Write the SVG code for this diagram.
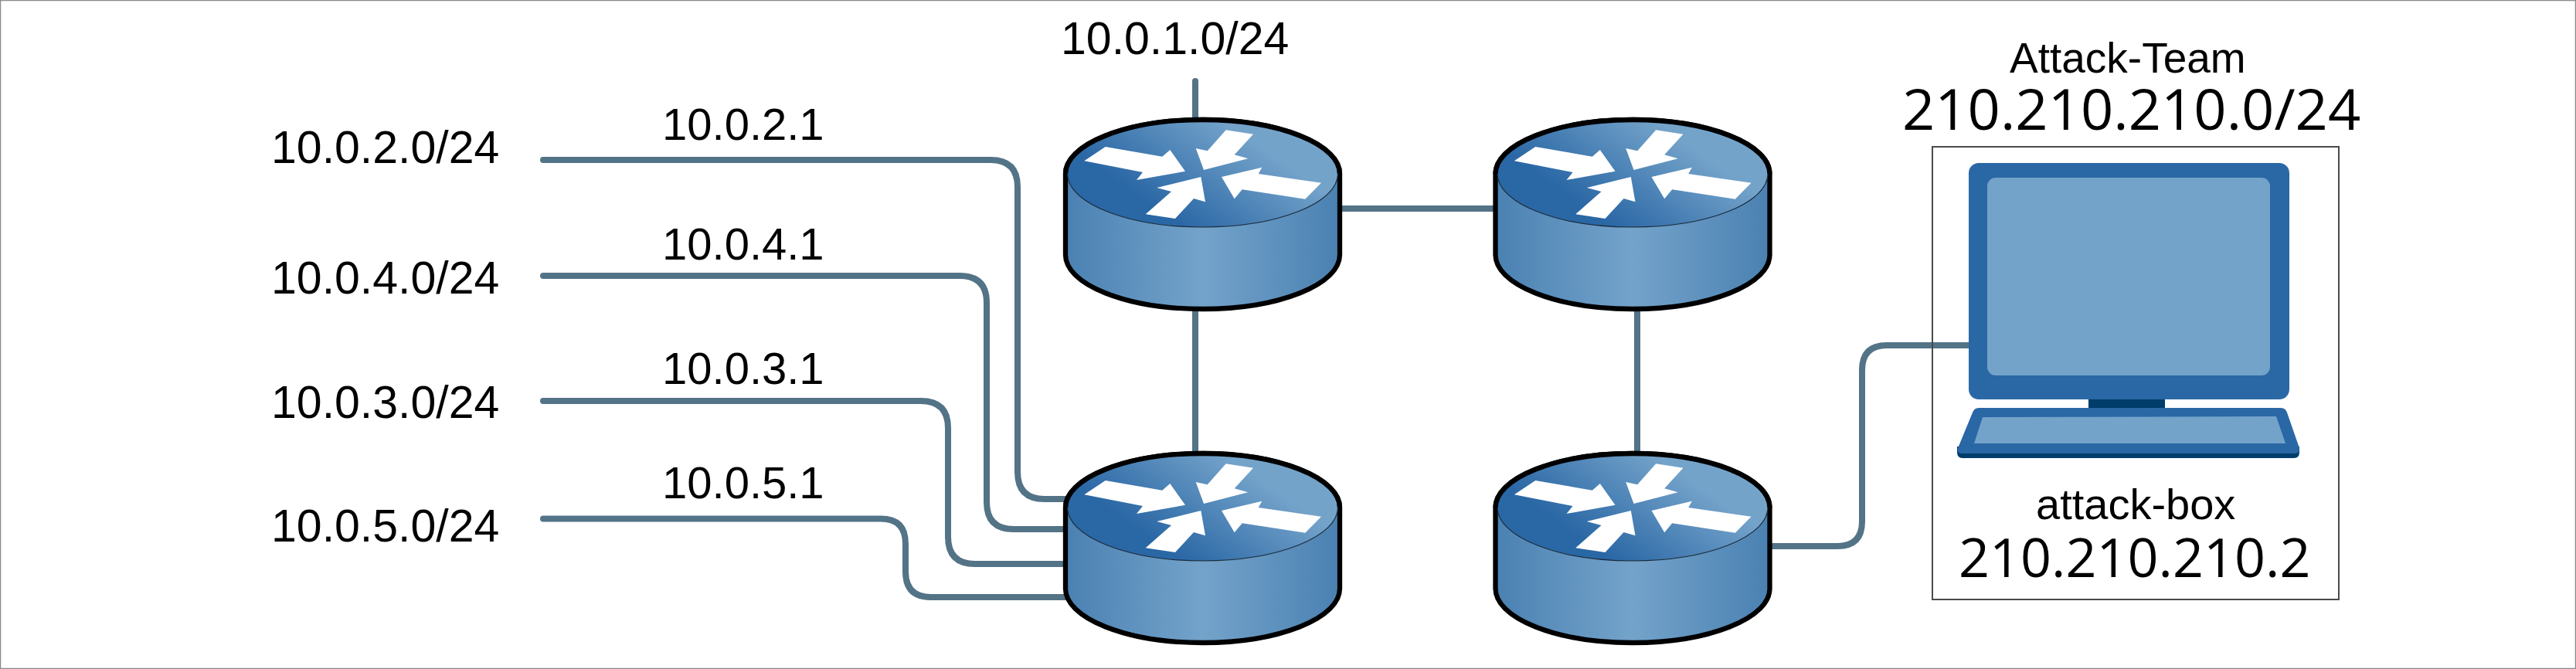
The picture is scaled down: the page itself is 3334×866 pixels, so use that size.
<svg xmlns="http://www.w3.org/2000/svg" xmlns:xlink="http://www.w3.org/1999/xlink" width="3334" height="866" viewBox="0 0 3334 866">
<style>
.link{fill:none;stroke:#537387;stroke-width:8;stroke-linecap:round;stroke-linejoin:round}
.t{font-family:"Liberation Sans",Arial,sans-serif;fill:#000;font-size:59px}
.o{font-family:"Open Sans","Liberation Sans",sans-serif;fill:#000}
.out{stroke:#000;stroke-width:6.3}
.arrow{fill:#fff}
</style>
<defs>
<linearGradient id="side" gradientUnits="userSpaceOnUse" x1="-178" y1="0" x2="178" y2="0">
<stop offset="0" stop-color="#4a81b2"/><stop offset="0.5" stop-color="#74a3ca"/><stop offset="1" stop-color="#4a81b2"/>
</linearGradient>
<linearGradient id="top" gradientUnits="userSpaceOnUse" x1="-41" y1="58" x2="42" y2="-60">
<stop offset="0" stop-color="#2a67a5"/><stop offset="1" stop-color="#74a3ca"/>
</linearGradient>
<g id="router">
<path class="out" fill="url(#side)" d="M-177.5,0V105A177.5,70 0 0 0 177.5,105V0A177.5,70 0 0 0 -177.5,0Z"/>
<ellipse cx="0" cy="0" rx="175" ry="69" fill="url(#top)" stroke="#1c2b3a" stroke-width="1.2"/>
<path class="out" fill="none" d="M-177.5,0A177.5,70 0 0 1 177.5,0"/>
<polygon class="arrow" points="-153.2,-16.7 -125.8,-35 -52.2,-22.3 -42.2,-31 -22.5,-3.3 -85.5,8 -77.5,-2"/>
<polygon class="arrow" points="30.2,-56.7 65.5,-51.3 41.2,-24.7 58.8,-19.7 1.5,-5 -8.8,-33 6.2,-29.7"/>
<polygon class="arrow" points="153.5,11.7 132.8,32.7 51.2,20.3 41.2,32.3 24.5,4 76.8,-8.3 72.2,0"/>
<polygon class="arrow" points="-73.8,52.3 -35.5,58 -11.5,32 3.5,36.3 -2.2,4 -59.2,18 -40.5,23"/>
</g>
</defs>
<rect width="3334" height="866" fill="#fff"/>
<rect x="0.5" y="0.5" width="3333" height="865" fill="none" stroke="#8a8a8a" stroke-width="1.5"/>
<g id="connectors">
<path class="link" d="M703,207H1282Q1317,207 1317,242V611Q1317,646 1352,646H1400"/>
<path class="link" d="M703,357H1242Q1277,357 1277,392V650Q1277,685 1312,685H1400"/>
<path class="link" d="M703,519H1192Q1227,519 1227,554V695Q1227,730 1262,730H1400"/>
<path class="link" d="M703,671.5H1140Q1172,671.5 1172,704V740Q1172,773 1205,773H1400"/>
<path class="link" d="M1547,105V200"/>
<path class="link" d="M1547,380V600"/>
<path class="link" d="M1700,270H1960"/>
<path class="link" d="M2119,380V600"/>
<path class="link" d="M2270,707H2378Q2410,707 2410,675V479Q2410,447 2442,447H2560"/>
</g>
<rect id="attack-team-box" x="2501" y="190" width="526" height="586" fill="none" stroke="#4a4a4a" stroke-width="2"/>
<g id="router-r1"><use href="#router" x="1556.5" y="225"/></g>
<g id="router-r2"><use href="#router" x="1556.5" y="657"/></g>
<g id="router-r3"><use href="#router" x="2113" y="225"/></g>
<g id="router-r4"><use href="#router" x="2113" y="657"/></g>
<g id="attack-box">
<rect x="2703" y="510" width="99" height="22" fill="#003d6b"/>
<rect x="2548" y="211" width="415" height="306" rx="13" fill="#2a67a5"/>
<rect x="2572" y="230" width="366" height="256" rx="11" fill="#74a3ca"/>
<path d="M2533,585Q2533,593 2540,593H2969Q2976,593 2976,585V578H2533Z" fill="#003d6b"/>
<path d="M2553,534Q2555,528 2561,528H2952Q2958,528 2960,534L2976,580Q2977,587 2969,587H2540Q2532,587 2534,580Z" fill="#2a67a5"/>
<path d="M2566,540L2946,539L2958,574H2555Z" fill="#74a3ca"/>
</g>
<g id="labels">
<text class="t" x="1373" y="70">10.0.1.0/24</text>
<text class="t" x="351" y="211">10.0.2.0/24</text>
<text class="t" x="351" y="380">10.0.4.0/24</text>
<text class="t" x="351" y="541">10.0.3.0/24</text>
<text class="t" x="351" y="701">10.0.5.0/24</text>
<text class="t" x="857" y="181" style="font-size:58px">10.0.2.1</text>
<text class="t" x="857" y="336" style="font-size:58px">10.0.4.1</text>
<text class="t" x="857" y="497" style="font-size:58px">10.0.3.1</text>
<text class="t" x="857" y="645" style="font-size:58px">10.0.5.1</text>
<text class="t" x="2601" y="94" style="font-size:55px">Attack-Team</text>
<text class="o" x="2462" y="168" style="font-size:74px">210.210.210.0/24</text>
<text class="t" x="2635" y="672" style="font-size:56px">attack-box</text>
<text class="o" x="2535" y="747" style="font-size:70px">210.210.210.2</text>
</g>
</svg>
